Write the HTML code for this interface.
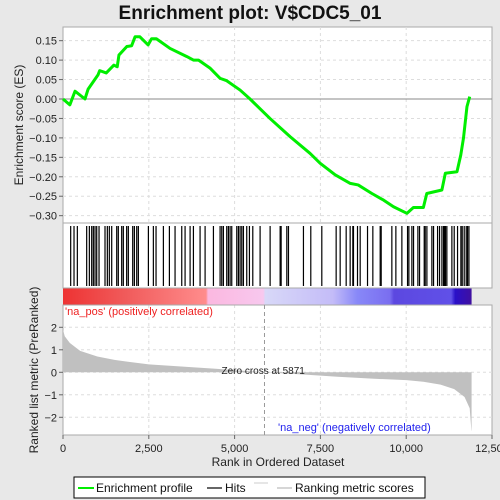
<!DOCTYPE html>
<html><head><meta charset="utf-8"><style>
body{margin:0;background:#e8e8e8;}
svg{display:block;font-family:"Liberation Sans",sans-serif;}
</style></head><body>
<svg id="chart" width="500" height="500" viewBox="0 0 500 500">
<rect x="0" y="0" width="500" height="500" fill="#e8e8e8"/>
<text x="250" y="19" text-anchor="middle" font-size="19" font-weight="bold" fill="#111">Enrichment plot: V$CDC5_01</text>
<g id="g"></g>
</svg>
<script>
const esRanks=[0,200,350,640,730,1020,1070,1260,1480,1580,1630,1860,2000,2100,2240,2480,2580,2720,3120,3610,3800,3950,4290,4580,4770,5160,5450,6030,6620,7200,7490,7930,8370,8600,9000,9340,9630,10020,10210,10500,10600,11040,11140,11480,11590,11670,11770,11850];
const esValues=[0,-0.015,0.02,0.0,0.025,0.062,0.073,0.067,0.087,0.083,0.113,0.135,0.137,0.160,0.160,0.139,0.155,0.155,0.130,0.109,0.100,0.100,0.079,0.053,0.047,0.023,0,-0.05,-0.097,-0.14,-0.165,-0.195,-0.217,-0.221,-0.243,-0.26,-0.277,-0.294,-0.279,-0.279,-0.243,-0.234,-0.191,-0.187,-0.144,-0.1,-0.02,0.006];
const hitRanks=[224,321,418,690,768,836,884,933,982,1050,1224,1292,1350,1419,1565,1612,1710,1758,1855,1904,2031,2080,2148,2196,2488,2633,2711,2925,3100,3265,3460,3557,3703,3800,3994,4140,4383,4577,4626,4674,4771,4820,4869,4917,5063,5112,5160,5209,5257,5354,5432,5530,5743,6035,6327,6356,6521,6570,7006,7220,7541,7959,8076,8251,8367,8445,8464,8581,8659,8873,9028,9242,9271,9582,9699,9874,10039,10078,10165,10214,10340,10389,10525,10554,10603,10748,10797,10914,10972,11040,11088,11117,11146,11185,11331,11399,11496,11593,11632,11690,11749,11787,11828];
const metricRanks=[0,50,200,500,1000,1500,2500,3500,4500,5871,7000,8000,9000,10000,10500,11000,11400,11700,11850,11900,11905];
const metricValues=[1.9,1.6,1.3,0.95,0.7,0.55,0.35,0.25,0.15,0,-0.1,-0.2,-0.28,-0.35,-0.42,-0.55,-0.75,-1.1,-1.6,-2.6,-2.6];
const esTicks=[0.15,0.10,0.05,0.00,-0.05,-0.10,-0.15,-0.20,-0.25,-0.30];
const metricTicks=[2,1,0,-1,-2];
const xTicks=[0,2500,5000,7500,10000,12500];
const xTickLabels=["0","2,500","5,000","7,500","10,000","12,500"];
const zeroCross=5871;

const NS="http://www.w3.org/2000/svg";
const g=document.getElementById('g');
const L=63,R=492,B=435;
const X=r=>L+r*(R-L)/12500;
const Yes=v=>99-v*388.9;
const Ym=v=>372.3-v*22.5;
function el(t,a,p){const e=document.createElementNS(NS,t);for(const k in a)e.setAttribute(k,a[k]);(p||g).appendChild(e);return e;}

const p1=el('rect',{x:L,y:27,width:R-L,height:196,fill:'#fff',stroke:'#aaa'});


const p2=el('rect',{x:L,y:223,width:R-L,height:65,fill:'#fff',stroke:'#aaa'});


const p3=el('rect',{x:L,y:305,width:R-L,height:B-305,fill:'#fff',stroke:'#aaa'});



xTicks.forEach((t,i)=>{
  if(i>0&&i<5){
    el('line',{x1:X(t),x2:X(t),y1:27,y2:223,stroke:'#ddd','stroke-dasharray':'3,3'});
    el('line',{x1:X(t),x2:X(t),y1:305,y2:B,stroke:'#ddd','stroke-dasharray':'3,3'});
  }
  el('line',{x1:X(t),x2:X(t),y1:B,y2:B+4,stroke:'#666'});
  const tx=el('text',{x:X(t),y:452,'text-anchor':'middle','font-size':11,fill:'#222'});
  tx.textContent=xTickLabels[i];
  
  
});
esTicks.forEach(t=>{
  el('line',{x1:L,x2:R,y1:Yes(t),y2:Yes(t),stroke:t===0?'#888':'#ddd','stroke-dasharray':t===0?'':'3,3'});
  el('line',{x1:L-4,x2:L,y1:Yes(t),y2:Yes(t),stroke:'#666'});
  const tx=el('text',{x:L-6,y:Yes(t)+4,'text-anchor':'end','font-size':11,fill:'#222'});
  tx.textContent=(t<0?'\u2212':'')+Math.abs(t).toFixed(2);
  
  
});
metricTicks.forEach(t=>{
  el('line',{x1:L,x2:R,y1:Ym(t),y2:Ym(t),stroke:'#ddd','stroke-dasharray':'3,3'});
  el('line',{x1:L-4,x2:L,y1:Ym(t),y2:Ym(t),stroke:'#666'});
  const tx=el('text',{x:L-6,y:Ym(t)+4,'text-anchor':'end','font-size':11,fill:'#222'});
  tx.textContent=(t<0?'\u2212':'')+Math.abs(t);
  
  
});

hitRanks.forEach(r=>{
  const h=el('line',{x1:X(r),x2:X(r),y1:226,y2:286,stroke:'#000','stroke-width':1.2});
  
  
});

const defs=el('defs',{});
const gr=el('linearGradient',{id:'cb',x1:0,x2:1,y1:0,y2:0},defs);
[[0,'#ee3333'],[0.15,'#f05a5a'],[0.35,'#ff8c8c'],[0.355,'#fbb8e0'],[0.49,'#f8c8ee'],[0.495,'#d8d8f8'],[0.66,'#c4bcf8'],[0.72,'#8888f8'],[0.8,'#7a6ef0'],[0.81,'#5c48e0'],[0.95,'#6050e8'],[0.96,'#2a10c8'],[1,'#4010a0']].forEach(s=>el('stop',{offset:s[0],'stop-color':s[1]},gr));
const cb=el('rect',{x:L,y:288,width:X(11905)-L,height:17,fill:'url(#cb)'});


el('line',{x1:L,x2:R,y1:288,y2:288,stroke:'#aaa'});
el('line',{x1:L,x2:R,y1:305,y2:305,stroke:'#aaa'});

let d='M'+X(0)+','+Ym(0);
metricRanks.forEach((r,i)=>{d+=' L'+X(r)+','+Ym(metricValues[i]);});
d+=' L'+X(metricRanks[metricRanks.length-1])+','+Ym(0)+' Z';
const ma=el('path',{d:d,fill:'#c0c0c0',stroke:'none'});



el('line',{x1:X(zeroCross),x2:X(zeroCross),y1:305,y2:B,stroke:'#999','stroke-dasharray':'4,3'});
const zt=el('text',{x:X(zeroCross)-43,y:374,'font-size':10,fill:'#222'});
zt.textContent='Zero cross at '+zeroCross;



const pos=el('text',{x:65,y:315,'font-size':11,fill:'#ee2222'});
pos.textContent="'na_pos' (positively correlated)";


const neg=el('text',{x:278,y:431,'font-size':11,fill:'#2222ee'});
neg.textContent="'na_neg' (negatively correlated)";



const pts=esRanks.map((r,i)=>X(r)+','+Yes(esValues[i])).join(' ');
const es=el('polyline',{points:pts,fill:'none',stroke:'#00ee00','stroke-width':3,'stroke-linejoin':'round'});



const yt1=el('text',{x:0,y:0,'font-size':12,fill:'#222','text-anchor':'middle',transform:'translate(23,125) rotate(-90)'});
yt1.textContent='Enrichment score (ES)';


const yt2=el('text',{x:0,y:0,'font-size':12,fill:'#222','text-anchor':'middle',transform:'translate(38,370) rotate(-90)'});
yt2.textContent='Ranked list metric (PreRanked)';


const xt=el('text',{x:278,y:466,'font-size':12,fill:'#222','text-anchor':'middle'});
xt.textContent='Rank in Ordered Dataset';



const lg=el('g',{});


el('rect',{x:74,y:477,width:351,height:21,fill:'#fff',stroke:'#000'},lg);
el('line',{x1:78,x2:94,y1:488,y2:488,stroke:'#00ee00','stroke-width':2},lg);
const l1=el('text',{x:96,y:492,'font-size':12,fill:'#111'},lg);l1.textContent='Enrichment profile';


el('line',{x1:207,x2:222,y1:488,y2:488,stroke:'#000','stroke-width':1.2},lg);
const l2=el('text',{x:225,y:492,'font-size':12,fill:'#111'},lg);l2.textContent='Hits';


el('line',{x1:254,x2:268,y1:483,y2:483,stroke:'#ccc'},lg);
el('line',{x1:277,x2:292,y1:488,y2:488,stroke:'#bbb','stroke-width':1.2},lg);
const l3=el('text',{x:295,y:492,'font-size':12,fill:'#111'},lg);l3.textContent='Ranking metric scores';


</script>
</body></html>
